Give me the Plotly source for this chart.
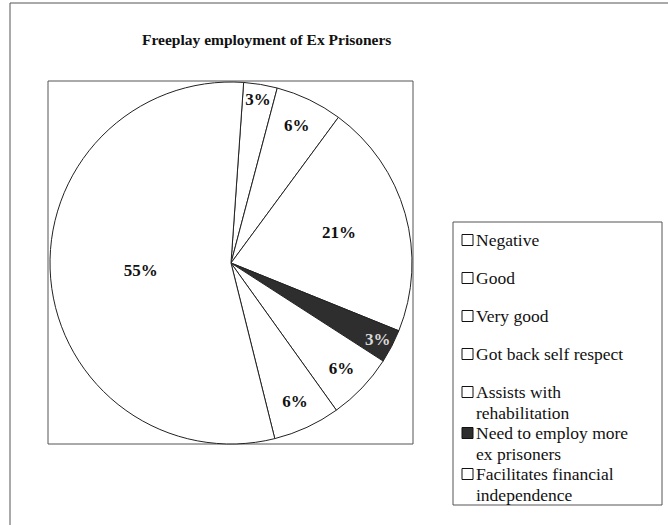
import textwrap
import plotly.graph_objects as go

# ---- data ----
categories = [
    "Negative",
    "Good",
    "Very good",
    "Got back self respect",
    "Assists with rehabilitation",
    "Need to employ more ex prisoners",
    "Facilitates financial independence",
]
values = [3, 6, 21, 3, 6, 6, 55]
title_text = "Freeplay employment of Ex Prisoners"

# ---- styles ----
W, H = 668, 525
SERIF = "Liberation Serif, Times New Roman, serif"
slice_colors = ["#ffffff", "#ffffff", "#ffffff", "#2e2e2e", "#ffffff", "#ffffff", "#ffffff"]
text_colors = ["#111111", "#111111", "#111111", "#d8d8d8", "#111111", "#111111", "#111111"]
legend_marker_colors = ["#ffffff", "#ffffff", "#ffffff", "#ffffff", "#ffffff", "#2e2e2e", "#ffffff"]


def px(x):
    return x / W


def py(y):
    return 1 - y / H


fig = go.Figure()
fig.add_trace(go.Pie(
    labels=categories,
    values=values,
    sort=False,
    direction="clockwise",
    rotation=4,
    textinfo="percent",
    textposition="inside",
    insidetextorientation="horizontal",
    texttemplate="<b>%{percent:.0%}</b>",
    textfont=dict(family=SERIF, size=17, color=text_colors),
    marker=dict(colors=slice_colors, line=dict(color="#222222", width=1)),
    domain=dict(x=[px(50), px(412)], y=[py(444), py(82)]),
    showlegend=False,
    hoverinfo="label+percent",
))

shapes = []
annotations = []
# outer frame
shapes.append(dict(type="line", xref="paper", yref="paper", x0=px(10), x1=px(668), y0=py(3), y1=py(3),
                   line=dict(color="#555555", width=1)))
shapes.append(dict(type="line", xref="paper", yref="paper", x0=px(10), x1=px(10), y0=py(3), y1=py(525),
                   line=dict(color="#555555", width=1)))
# plot-area box
shapes.append(dict(type="rect", xref="paper", yref="paper", x0=px(48), x1=px(413), y0=py(444), y1=py(81),
                   line=dict(color="#555555", width=1), layer="below"))
# legend box
shapes.append(dict(type="rect", xref="paper", yref="paper", x0=px(453), x1=px(662), y0=py(505), y1=py(222),
                   line=dict(color="#555555", width=1)))

# title
annotations.append(dict(text="<b>" + title_text + "</b>", x=px(266), y=py(40), xref="paper", yref="paper",
                        showarrow=False, xanchor="center", yanchor="middle",
                        font=dict(family=SERIF, size=15.5, color="#111111")))

# legend entries
y = 240
for name, mc in zip(categories, legend_marker_colors):
    lines = textwrap.wrap(name, width=21)
    shapes.append(dict(type="rect", xref="paper", yref="paper", x0=px(462), x1=px(473),
                       y0=py(y + 5.5), y1=py(y - 5.5), fillcolor=mc, line=dict(color="#111111", width=1)))
    for ln in lines:
        annotations.append(dict(text=ln, x=px(475), y=py(y), xref="paper", yref="paper", showarrow=False,
                                xanchor="left", yanchor="middle", borderpad=0,
                                font=dict(family=SERIF, size=17.5, color="#111111")))
        y += 20.5
    if len(lines) == 1:
        y += 17.5

fig.update_layout(
    width=W, height=H,
    margin=dict(l=0, r=0, t=0, b=0),
    paper_bgcolor="white",
    plot_bgcolor="white",
    shapes=shapes,
    annotations=annotations,
    uniformtext=dict(minsize=17, mode="show"),
)

fig.write_html("out.html", config={"displayModeBar": False},
               post_script="document.body.style.margin='0';")
